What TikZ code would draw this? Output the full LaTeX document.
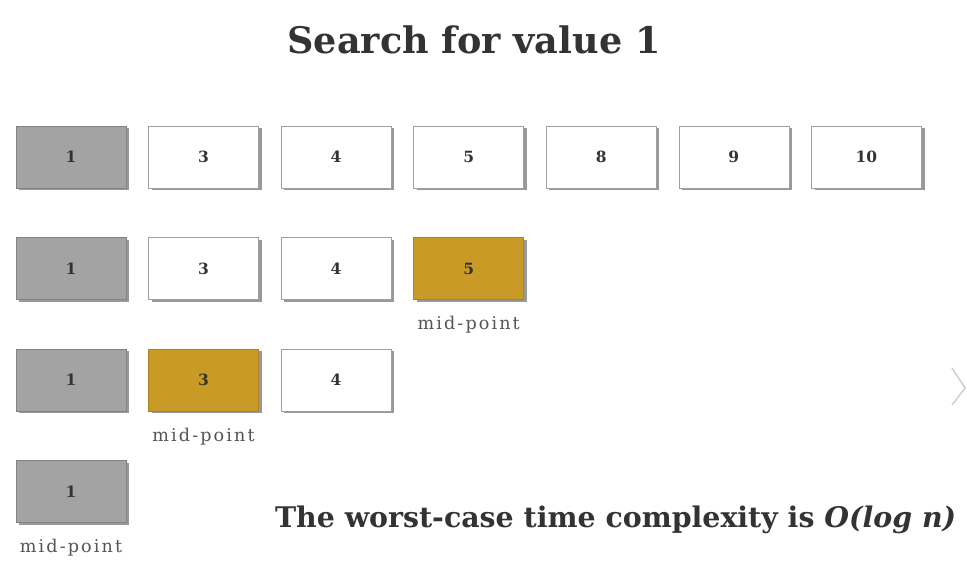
\documentclass[tikz,border=0pt]{standalone}
\usepackage{fontspec}
\setmainfont{DejaVu Serif}
\usetikzlibrary{positioning, shadows}
\definecolor{cellgray}{HTML}{A3A3A3}
\definecolor{cellgold}{HTML}{C99A26}
\definecolor{labelgray}{HTML}{555555}

\begin{document}
\begin{tikzpicture}[
			cell/.style={draw=gray!75, fill=white, minimum width=2.75cm, minimum height=1.55cm, inner sep=0pt, font=\bfseries\fontsize{11}{12}\selectfont, text=black!80,
				drop shadow={shadow xshift=0.08cm, shadow yshift=-0.05cm, fill=gray!80, opacity=1}},
			found/.style={cell, fill=cellgray, draw=cellgray!80!black},
			mid/.style={cell, fill=cellgold, draw=cellgold!85!black},
			midlabel/.style={below=0.4cm, font=\fontsize{12.5}{14}\selectfont\addfontfeature{LetterSpace=12}, text=labelgray, inner sep=0pt},
			title/.style={font=\bfseries\fontsize{26}{30}\selectfont, text=black!80}
			]
			\useasboundingbox (0,0) rectangle (24.175,-14.225);
			\node[title] (heading) at (11.85,-1.0) {Search for value 1};
			
			% full array
			\node[found] (a1) at (1.775,-3.925) {1};
			\node[cell, right=0.55cm of a1] (a2) {3};
			\node[cell, right=0.55cm of a2] (a3) {4};
			\node[cell, right=0.55cm of a3] (a4) {5};
			\node[cell, right=0.55cm of a4] (a5) {8};
			\node[cell, right=0.55cm of a5] (a6) {9};
			\node[cell, right=0.55cm of a6] (a7) {10};
			
			% first step
			\node[found, below=1.225cm of a1] (b1) {1};
			\node[cell, right=0.55cm of b1] (b2) {3};
			\node[cell, right=0.55cm of b2] (b3) {4};
			\node[mid, right=0.55cm of b3] (b4) {5};
			\node[midlabel] (b4mid) at (b4.south) {mid-point};
			
			% second step
			\node[found, below=1.225cm of b1] (c1) {1};
			\node[mid, right=0.55cm of c1] (c2) {3};
			\node[cell, right=0.55cm of c2] (c3) {4};
			\node[midlabel] (c2mid) at (c2.south) {mid-point};
			
			% last step
			\node[found, below=1.225cm of c1] (d1) {1};
			\node[midlabel] (d1mid) at (d1.south) {mid-point};
			
			\node[font=\bfseries\fontsize{20.2}{24}\selectfont, text=black!80] (worst) at (15.39,-13.0) {The worst-case time complexity is \textit{O(log n)}};
			
			% slide arrow
			\draw[gray!40, line width=1pt] (23.8,-9.2) -- (24.125,-9.7) -- (23.8,-10.125);
	\end{tikzpicture}
\end{document}
